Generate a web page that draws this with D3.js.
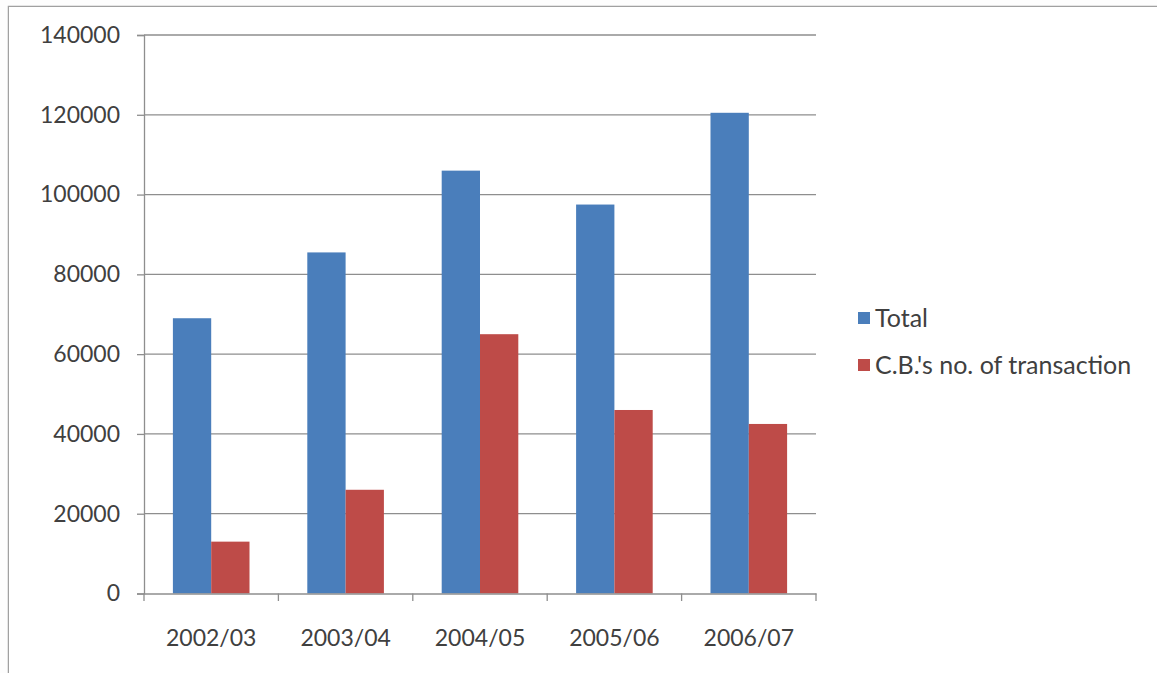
<!DOCTYPE html>
<html><head><meta charset="utf-8">
<script src="https://cdn.jsdelivr.net/npm/d3@7"></script>
<style>body{margin:0;background:#fff;} svg{display:block;}</style>
</head><body>
<script>
const categories = ["2002/03","2003/04","2004/05","2005/06","2006/07"];
const seriesNames = ["Total","C.B.'s no. of transaction"];
const totalValues = [69000, 85500, 106000, 97500, 120500];
const cbValues = [13000, 26000, 65000, 46000, 42500];
const yTicks = [0,20000,40000,60000,80000,100000,120000,140000];
const colors = ["#4a7ebb","#be4b48"];

const W=1157,H=673;
const svg=d3.select("body").append("svg").attr("width",W).attr("height",H);
svg.append("rect").attr("width",W).attr("height",H).attr("fill","#fdfdfd");
// frame
svg.append("path").attr("d","M8.5,"+H+" V6.5 H"+W).attr("fill","none").attr("stroke","#a0a0a0").attr("stroke-width",1.5);
svg.append("rect").attr("x",9).attr("y",7).attr("width",W-9).attr("height",H-7).attr("fill","#fff");

const x0=d3.scaleBand().domain(categories).range([144,816]).padding(0);
const groupW=x0.bandwidth()*0.57;
const x1=d3.scaleBand().domain(seriesNames).range([0,groupW]).padding(0);
const y=d3.scaleLinear().domain([0,140000]).range([593.5,35]);
const font="Lato, 'Open Sans', sans-serif";

// gridlines
svg.append("g").selectAll("line").data(yTicks.slice(1)).join("line")
  .attr("x1",144).attr("x2",816).attr("y1",d=>y(d)).attr("y2",d=>y(d))
  .attr("stroke","#8e8e8e").attr("stroke-width",1.3);

// y axis
const yAxis=svg.append("g").attr("transform","translate(144,0)")
  .call(d3.axisLeft(y).tickValues(yTicks).tickSize(7).tickPadding(17).tickFormat(d3.format("d")));
yAxis.select(".domain").attr("stroke","#8e8e8e").attr("stroke-width",1.3);
yAxis.selectAll(".tick line").attr("stroke","#8e8e8e").attr("stroke-width",1.3);
yAxis.selectAll("text").attr("font-family",font).attr("font-size",23).attr("fill","#404040");

// bars
const data=categories.map((c,i)=>({cat:c,vals:[totalValues[i],cbValues[i]]}));
const g=svg.append("g").selectAll("g").data(data).join("g")
  .attr("transform",d=>`translate(${x0(d.cat)+(x0.bandwidth()-groupW)/2},0)`);
g.selectAll("rect").data(d=>d.vals.map((v,j)=>({s:seriesNames[j],v,j}))).join("rect")
  .attr("x",d=>x1(d.s)).attr("width",x1.bandwidth())
  .attr("y",d=>y(d.v)).attr("height",d=>y(0)-y(d.v)).attr("fill",d=>colors[d.j]);

// x axis
const xAxis=svg.append("g").attr("transform","translate(0,593.5)")
  .call(d3.axisBottom(x0).tickSize(0).tickPadding(36));
xAxis.select(".domain").attr("stroke","#8e8e8e").attr("stroke-width",1.3);
xAxis.selectAll("text").attr("font-family",font).attr("font-size",23).attr("fill","#404040");
svg.append("g").selectAll("line").data(d3.range(categories.length+1)).join("line")
  .attr("x1",i=>144+i*x0.step()).attr("x2",i=>144+i*x0.step())
  .attr("y1",593.5).attr("y2",601).attr("stroke","#8e8e8e").attr("stroke-width",1.3);

// legend
const lg=svg.append("g").selectAll("g").data(seriesNames).join("g")
  .attr("transform",(d,i)=>`translate(858,${312+i*47})`);
lg.append("rect").attr("width",12).attr("height",12).attr("fill",(d,i)=>colors[i]);
lg.append("text").attr("x",17).attr("y",15).text(d=>d)
  .attr("font-family",font).attr("font-size",25).attr("fill","#404040");
</script>
</body></html>
